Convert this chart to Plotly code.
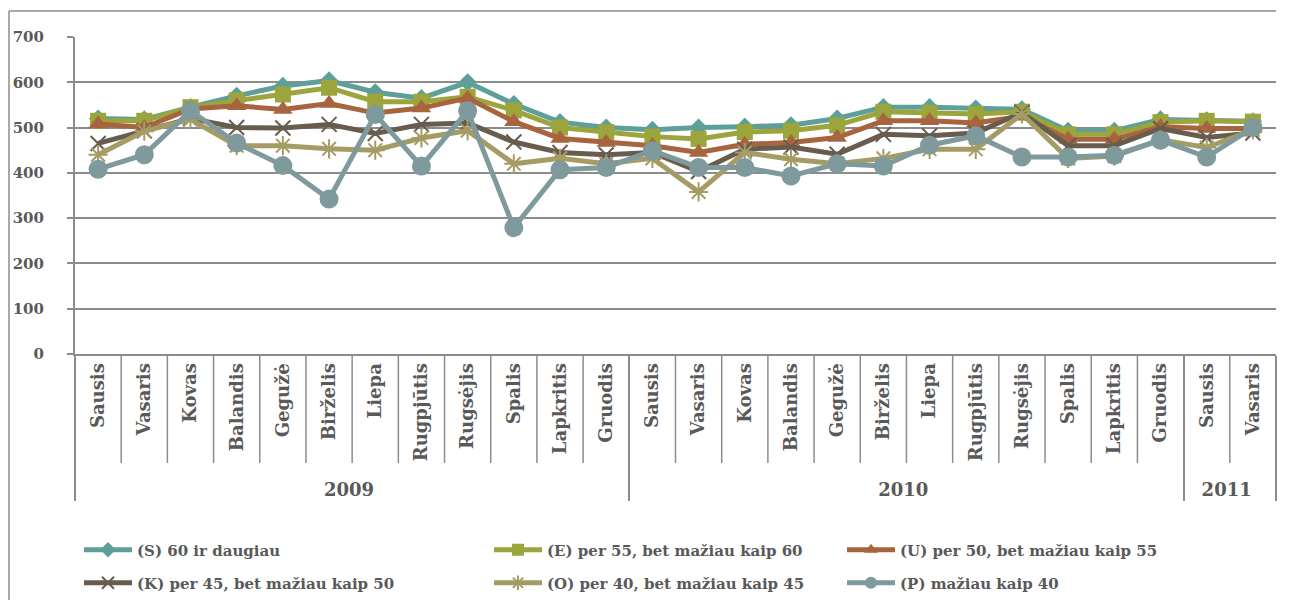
import plotly.graph_objects as go

months = ["Sausis", "Vasaris", "Kovas", "Balandis", "Gegužė", "Birželis", "Liepa",
          "Rugpjūtis", "Rugsėjis", "Spalis", "Lapkritis", "Gruodis",
          "Sausis", "Vasaris", "Kovas", "Balandis", "Gegužė", "Birželis", "Liepa",
          "Rugpjūtis", "Rugsėjis", "Spalis", "Lapkritis", "Gruodis",
          "Sausis", "Vasaris"]
years = ["2009"] * 12 + ["2010"] * 12 + ["2011"] * 2

s_vals = [520, 518, 545, 570, 592, 604, 578, 565, 600, 552, 512, 500,
          495, 500, 502, 505, 520, 545, 545, 542, 540, 493, 493, 518, 516, 514]
e_vals = [515, 515, 545, 560, 573, 588, 557, 557, 568, 538, 500, 490,
          480, 475, 490, 493, 505, 535, 533, 530, 535, 485, 485, 512, 515, 513]
u_vals = [508, 500, 541, 548, 540, 553, 532, 543, 565, 513, 476, 467,
          460, 445, 463, 467, 478, 515, 515, 510, 525, 474, 474, 502, 498, 498]
k_vals = [465, 493, 520, 500, 499, 507, 487, 507, 510, 468, 445, 440,
          445, 403, 452, 457, 441, 485, 482, 488, 533, 460, 460, 498, 478, 488]
o_vals = [440, 492, 518, 460, 460, 453, 450, 477, 493, 420, 432, 420,
          432, 358, 445, 430, 420, 432, 452, 452, 530, 432, 437, 473, 456, 495]
p_vals = [408, 440, 537, 466, 416, 342, 529, 415, 537, 279, 407, 412,
          449, 412, 412, 393, 420, 415, 461, 482, 435, 435, 439, 472, 435, 500]

names = ["(S) 60 ir daugiau", "(E) per 55, bet mažiau kaip 60",
         "(U) per 50, bet mažiau kaip 55", "(K) per 45, bet mažiau kaip 50",
         "(O) per 40, bet mažiau kaip 45", "(P) mažiau kaip 40"]
series = [s_vals, e_vals, u_vals, k_vals, o_vals, p_vals]
colors = ["#5E9F9A", "#9BA53B", "#A7643F", "#685C4E", "#A59C65", "#7F9A9C"]
symbols = ["diamond", "square", "triangle-up", "x-thin", "asterisk", "circle"]
sizes = [14, 16, 17, 15, 16, 19]
y_ticks = [0, 100, 200, 300, 400, 500, 600, 700]

GREY = "#8C8C8C"
TXT = "#595959"
FONT = "DejaVu Serif"

# page has an 8px body margin; geometry below is in figure pixels
OFF = 8
W, H = 1290 - 2 * OFF - 4, 612 - 2 * OFF - 4
L, T = 75 - OFF, 37 - OFF
R = W - (1276 - OFF)
B = H - (354 - OFF)
pw, ph = W - L - R, H - T - B

# legend positions (page pixels) per series
leg_px = [(79, 550), (489, 550), (842, 550), (79, 583), (489, 583), (842, 583)]

fig = go.Figure()
for i, (nm, vals) in enumerate(zip(names, series)):
    lg = "legend" if i == 0 else f"legend{i+1}"
    thin = symbols[i] in ("x-thin", "asterisk")
    fig.add_trace(go.Scatter(
        x=[years, months], y=vals, name=nm, mode="lines+markers",
        line=dict(color=colors[i], width=5),
        marker=dict(symbol=symbols[i], size=sizes[i], color=colors[i],
                    line=dict(color=colors[i], width=2 if thin else 0)),
        legend=lg,
    ))

legend_cfg = {}
for i, (px, py) in enumerate(leg_px):
    key = "legend" if i == 0 else f"legend{i+1}"
    fx, fy = px - OFF, py - OFF
    legend_cfg[key] = dict(
        x=(fx - L) / pw, y=(H - B - fy) / ph, xanchor="left", yanchor="middle",
        orientation="h", bgcolor="rgba(0,0,0,0)", itemwidth=48,
        font=dict(family=FONT, size=15, color=TXT, weight="bold"),
        itemsizing="constant", itemclick=False, visible=True,
    )

shapes = []
n = len(months)
sep_bottom = -(463 - 354) / ph
for i in range(n - 1):
    if years[i] == years[i + 1]:
        shapes.append(dict(type="line", xref="paper", yref="paper",
                           x0=(i + 1) / n, x1=(i + 1) / n, y0=0, y1=sep_bottom,
                           line=dict(color=GREY, width=1.5)))
# outer chart border: top and left edges (page: left x=8, top y=11)
bx = (1 - L) / pw
by = (H - B - (11 - OFF)) / ph
shapes.append(dict(type="line", xref="paper", yref="paper",
                   x0=bx, x1=(W - 2 - L) / pw, y0=by, y1=by,
                   line=dict(color=GREY, width=1.5)))
shapes.append(dict(type="line", xref="paper", yref="paper",
                   x0=bx, x1=bx, y0=by, y1=(H - B - H) / ph,
                   line=dict(color=GREY, width=1.5)))

fig.update_layout(
    width=W, height=H,
    margin=dict(l=L, r=R, t=T, b=B, autoexpand=False),
    paper_bgcolor="white", plot_bgcolor="white",
    font=dict(family=FONT, color=TXT),
    showlegend=True,
    xaxis=dict(
        type="multicategory", range=[-0.5, n - 0.5],
        showline=True, linecolor=GREY, linewidth=2,
        showgrid=False, ticks="", tickangle=-90,
        tickfont=dict(family=FONT, size=18, color=TXT, weight="bold"),
        showdividers=True, dividercolor=GREY, dividerwidth=1.5,
    ),
    yaxis=dict(
        range=[0, 700], tickvals=y_ticks, showgrid=True, gridcolor=GREY, gridwidth=1.5,
        showline=True, linecolor=GREY, linewidth=2, ticks="outside", ticklen=6,
        tickcolor=GREY, tickwidth=1.5, zeroline=False, ticklabelstandoff=20,
        tickfont=dict(family=FONT, size=15, color=TXT, weight="bold"),
    ),
    shapes=shapes,
    **legend_cfg,
)

fig.write_html("out.html")
